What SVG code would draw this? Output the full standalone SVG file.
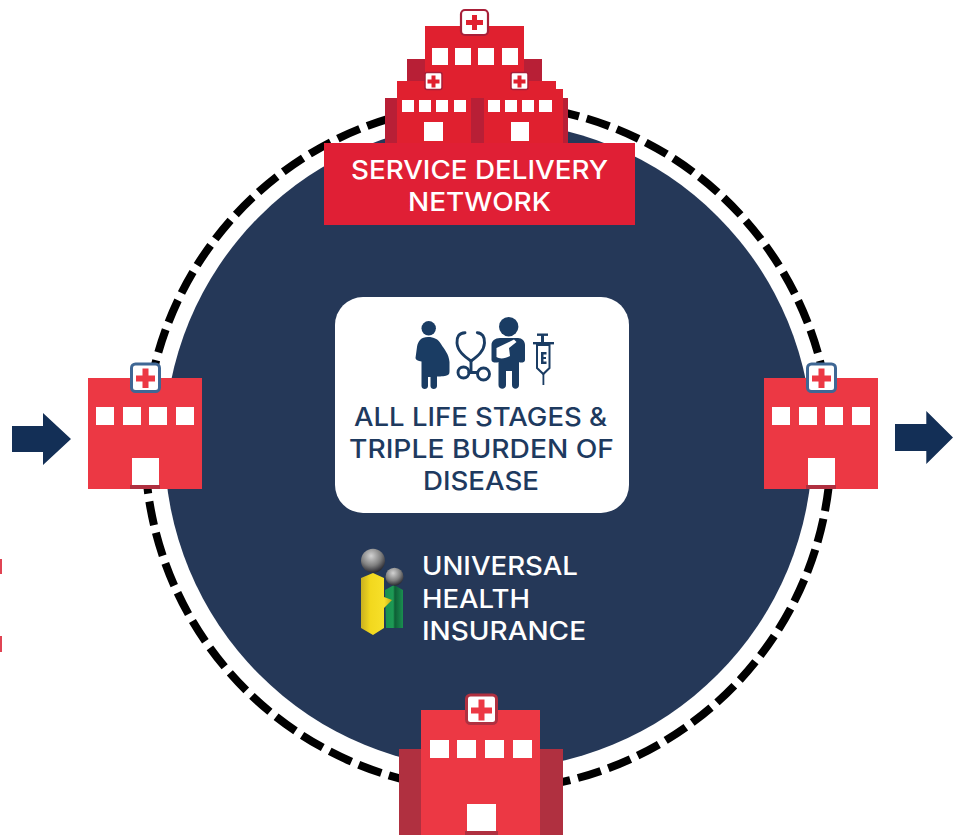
<svg xmlns="http://www.w3.org/2000/svg" width="953" height="837" viewBox="0 0 953 837">
<style>
.h{fill:#ec3844}.w{fill:#fff}.wing{fill:#b03040}.sh{fill:#b03040}
.t{fill:#e0202f}.td{fill:#b81f36}
.ic{fill:#1a3c63}.st{fill:none;stroke:#1a3c63;stroke-width:2.900;stroke-linecap:round}
.lab{font-family:"Inter","Liberation Sans",sans-serif;font-size:25.500px;font-weight:500;text-anchor:middle}
.labl{font-family:"Inter","Liberation Sans",sans-serif;font-size:25.500px;font-weight:500;fill:#fff}
.arrow{fill:#132f56}
.sign{fill:#fff;stroke:#3f6794;stroke-width:3}
</style>
<defs>
<radialGradient id="ball" cx="0.42" cy="0.3" r="0.75"><stop offset="0" stop-color="#d2d2d2"/><stop offset="0.55" stop-color="#808080"/><stop offset="1" stop-color="#1c1c24"/></radialGradient>
<linearGradient id="yel" x1="0" x2="1" y1="0" y2="0"><stop offset="0" stop-color="#c9b020"/><stop offset="0.3" stop-color="#f2d81e"/><stop offset="0.75" stop-color="#f7e02a"/><stop offset="1" stop-color="#c7aa18"/></linearGradient>
<linearGradient id="grn" x1="0" x2="1" y1="0" y2="0"><stop offset="0" stop-color="#1a8f50"/><stop offset="0.45" stop-color="#1d9a55"/><stop offset="0.55" stop-color="#0e5f36"/><stop offset="1" stop-color="#1a8f50"/></linearGradient>
</defs>

<g id="connectors">
<path d="M145 447A343 343 0 1 1 831 447A343 343 0 1 1 145 447" fill="none" stroke="#000" stroke-width="8" stroke-dasharray="24 7.930"/>
</g>

<g id="hub">
<circle cx="488.500" cy="445.500" r="324" fill="#253858"/>
</g>

<g id="network-hospitals">
<rect class="td" x="407" y="59" width="135" height="50"/>
<rect class="t" x="425" y="26" width="99" height="70"/>
<rect x="461" y="10" width="27" height="25" rx="4" fill="#fff" stroke="#a81f38" stroke-width="2.200"/>
<path class="t" d="M472 15h5v5h6v5h-6v5h-5v-5h-6v-5h6z"/>
<g class="w"><rect x="432" y="48" width="16" height="17"/><rect x="455" y="48" width="16" height="17"/><rect x="478" y="48" width="16" height="17"/><rect x="502" y="48" width="16" height="17"/></g>
<rect class="td" x="385" y="98" width="183" height="46"/>
<path class="t" d="M397 81H556V89H563V144H484V98H471V144H397Z"/>
<rect x="425" y="72.500" width="17" height="17" rx="2" fill="#fff" stroke="#a81f38" stroke-width="1.500"/>
<rect x="511" y="72.500" width="17" height="17" rx="2" fill="#fff" stroke="#a81f38" stroke-width="1.500"/>
<path class="t" d="M431.500 75.500h4v4h4v4h-4v4h-4v-4h-4v-4h4z"/>
<path class="t" d="M517.500 75.500h4v4h4v4h-4v4h-4v-4h-4v-4h4z"/>
<g class="w">
<rect x="402" y="100" width="12" height="12"/><rect x="419" y="100" width="12" height="12"/><rect x="436" y="100" width="12" height="12"/><rect x="454" y="100" width="12" height="12"/>
<rect x="488" y="100" width="12" height="12"/><rect x="505" y="100" width="12" height="12"/><rect x="522" y="100" width="12" height="12"/><rect x="539" y="100" width="13" height="12"/>
<rect x="424" y="122" width="19" height="19"/><rect x="511" y="122" width="18" height="19"/>
</g>
</g>

<g id="service-delivery-network">
<rect x="324" y="143" width="311" height="82" fill="#e01f35"/>
<text class="lab" fill="#fff" x="479.500" y="179" textLength="257" lengthAdjust="spacingAndGlyphs">SERVICE DELIVERY</text>
<text class="lab" fill="#fff" x="479.500" y="211" textLength="143" lengthAdjust="spacingAndGlyphs">NETWORK</text>
</g>

<g id="life-stages">
<rect x="335" y="297" width="294" height="216" rx="28" fill="#fff"/>
<circle class="ic" cx="428.700" cy="328.300" r="7.200"/>
<path class="ic" d="M428 337C421 337 418 341 417 347L415.500 358C415.500 360 418 361 421.500 361.500V386C421.500 390 428 390 428 386V377H430.500V386C430.500 390 437 390 437 386V376.500C441 376.500 446 376 448 375 449.300 374 449.500 373 449.500 371V362C449 354 444 349 441 344 438 339 434 337 428 337Z"/>
<path class="st" d="M465 332.700C459 333 456.500 337 457 343 457.500 351 464 356 471 361 478 356 484 351 484.500 343 485 337 482 333 477.300 332.700"/>
<path class="st" d="M471 361V372"/>
<circle class="st" cx="463.500" cy="372.500" r="5.500"/>
<path class="st" d="M469 372.500H477.500"/>
<circle class="st" cx="483.500" cy="374" r="6"/>
<circle class="ic" cx="508.700" cy="326.700" r="9.700"/>
<path class="ic" d="M500 338H518C522 338 525 341 525 345V360C525 363 520 363 519 362V385C519 390 512 390 512 385V371H506V385C506 390 498.500 390 498.500 385V362C497 363 491.500 363 491.500 360V345C491.500 341 495 338 500 338Z"/>
<path class="w" d="M496.500 348 514 339.500 516.500 342 509 348 510 356C505 359 499 359 496.500 357Z"/>
<g>
<rect class="ic" x="537" y="333.500" width="11" height="2.400"/>
<rect class="ic" x="541" y="335" width="3" height="7"/>
<rect class="ic" x="533" y="342" width="21" height="2.400"/>
<path d="M537 345V368L543.300 374 549.500 368V345Z" fill="none" stroke="#1a3c63" stroke-width="2"/>
<path class="ic" d="M541 352H546.500V354.500H543.500V357H546V359H543.500V361.500H546.500V364H541Z"/>
<rect class="ic" x="542.500" y="374" width="1.800" height="11"/>
</g>
<text class="lab" fill="#1e3a5f" x="480.500" y="426" textLength="253" lengthAdjust="spacingAndGlyphs">ALL LIFE STAGES &amp;</text>
<text class="lab" fill="#1e3a5f" x="481.500" y="458" textLength="265" lengthAdjust="spacingAndGlyphs">TRIPLE BURDEN OF</text>
<text class="lab" fill="#1e3a5f" x="481" y="490" textLength="116" lengthAdjust="spacingAndGlyphs">DISEASE</text>
</g>

<g id="universal-health-insurance">
<path fill="url(#grn)" d="M385 590L394 585 403 590V628H386Z"/>
<path fill="url(#yel)" d="M361 578L373 573 384 578V597L392 600 384 608V628L373 635 361 628Z"/>
<circle cx="373" cy="560.700" r="12" fill="url(#ball)"/>
<circle cx="394.500" cy="576.700" r="9" fill="url(#ball)"/>
<text class="labl" x="422" y="575" textLength="156" lengthAdjust="spacingAndGlyphs">UNIVERSAL</text>
<text class="labl" x="422" y="608" textLength="108" lengthAdjust="spacingAndGlyphs">HEALTH</text>
<text class="labl" x="422" y="640" textLength="164" lengthAdjust="spacingAndGlyphs">INSURANCE</text>
</g>

<g id="hospital-left">
<rect class="h" x="88" y="378" width="114" height="111"/>
<rect class="sign" x="131.500" y="364" width="28" height="27.500" rx="4"/>
<path class="h" d="M142.500 368.500h6v7h6.500v6h-6.500v6.500h-6v-6.500h-6.500v-6h6.500z"/>
<g class="w"><rect x="96" y="407" width="18" height="18"/><rect x="123" y="407" width="18" height="18"/><rect x="149" y="407" width="18" height="18"/><rect x="176" y="407" width="18" height="18"/><rect x="132" y="458" width="27" height="27"/></g>
<rect class="sh" x="130" y="485" width="30" height="4"/>
</g>

<g id="hospital-right">
<rect class="h" x="764" y="378" width="114" height="111"/>
<rect class="sign" x="807.500" y="364" width="28" height="27.500" rx="4"/>
<path class="h" d="M818.500 368.500h6v7h6.500v6h-6.500v6.500h-6v-6.500h-6.500v-6h6.500z"/>
<g class="w"><rect x="772" y="407" width="18" height="18"/><rect x="799" y="407" width="18" height="18"/><rect x="825" y="407" width="18" height="18"/><rect x="852" y="407" width="18" height="18"/><rect x="808" y="458" width="27" height="27"/></g>
<rect class="sh" x="806" y="485" width="30" height="4"/>
</g>

<g id="hospital-bottom">
<rect class="wing" x="399" y="749" width="164" height="86"/>
<rect class="h" x="421" y="710" width="119" height="125"/>
<rect x="466.500" y="695" width="30" height="28.500" rx="4" fill="#fff" stroke="#b03040" stroke-width="3"/>
<path class="h" d="M478.500 699.500h6v8h7.500v6h-7.500v7h-6v-7h-7.500v-6h7.500z"/>
<g class="w"><rect x="430" y="740" width="19" height="18"/><rect x="457" y="740" width="19" height="18"/><rect x="485" y="740" width="19" height="18"/><rect x="513" y="740" width="19" height="18"/><rect x="467" y="804" width="29" height="27"/></g>
<rect class="wing" x="465" y="831" width="33" height="4"/>
</g>

<g id="flow-arrows">
<path class="arrow" d="M12 426H43V413L71 439 43 465V452H12Z"/>
<path class="arrow" d="M895 424H926.300V411L953 437.500 926.300 464V451H895Z"/>
</g>

<g id="edge-marks">
<rect x="0" y="559" width="2" height="15" fill="#e04453"/>
<rect x="0" y="636" width="2" height="16" fill="#e04453"/>
</g>
</svg>
